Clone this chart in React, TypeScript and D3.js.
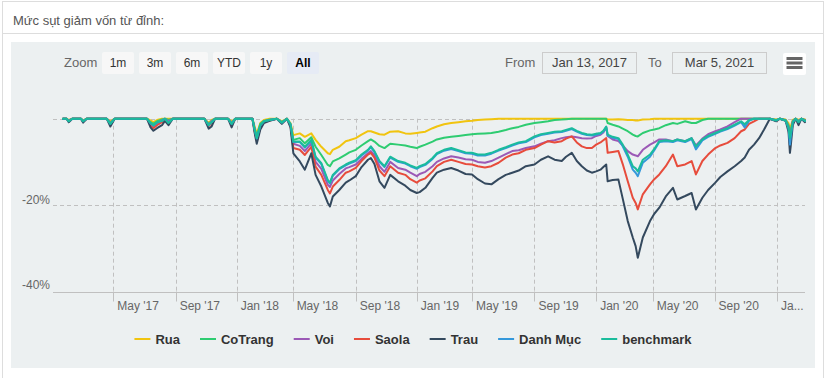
import React from "react";
import * as d3 from "d3";

// ---------- data ----------
const dates = [
  "2017-01-13","2017-01-20","2017-01-25","2017-02-08","2017-02-24","2017-03-01","2017-03-08","2017-04-18","2017-04-25","2017-05-05",
  "2017-07-07","2017-07-14","2017-07-20","2017-07-27","2017-08-07","2017-08-11","2017-08-18","2017-08-28","2017-10-30","2017-11-07",
  "2017-11-13","2017-11-20","2017-12-14","2017-12-21","2017-12-28","2018-02-01","2018-02-06","2018-02-09","2018-02-23","2018-03-02",
  "2018-03-14","2018-03-28","2018-04-06","2018-04-17","2018-04-24","2018-05-03","2018-05-16","2018-05-25","2018-06-07","2018-06-15",
  "2018-06-27","2018-07-10","2018-07-13","2018-07-19","2018-08-01","2018-08-14","2018-08-21","2018-09-04","2018-09-14","2018-09-27",
  "2018-10-03","2018-10-10","2018-10-19","2018-10-30","2018-11-09","2018-11-26","2018-12-10","2018-12-19","2019-01-02","2019-01-08",
  "2019-01-18","2019-02-01","2019-02-18","2019-03-04","2019-03-18","2019-04-01","2019-04-16","2019-05-02","2019-05-14","2019-05-28",
  "2019-06-10","2019-06-24","2019-07-08","2019-07-19","2019-08-01","2019-08-15","2019-09-03","2019-09-16","2019-09-30","2019-10-11",
  "2019-10-25","2019-11-04","2019-11-14","2019-11-25","2019-12-04","2019-12-13","2019-12-24","2020-01-02","2020-01-10","2020-01-16",
  "2020-01-22","2020-01-31","2020-02-11","2020-02-21","2020-03-02","2020-03-11","2020-03-20","2020-03-26","2020-03-31","2020-04-10",
  "2020-04-24","2020-05-06","2020-05-15","2020-05-28","2020-06-11","2020-06-19","2020-07-06","2020-07-17","2020-07-27","2020-08-07",
  "2020-08-19","2020-09-03","2020-09-14","2020-09-28","2020-10-12","2020-10-23","2020-10-30","2020-11-09","2020-11-18","2020-11-27",
  "2020-12-08","2020-12-18","2020-12-31","2021-01-08","2021-01-20","2021-01-26","2021-01-28","2021-01-29","2021-02-03","2021-02-09",
  "2021-02-22","2021-02-26","2021-03-05",
];

const rua = [
  0,0,-0.3,0,0,-0.4,0,0,-0.6,0,
  0,-0.4,-0.8,-0.3,0,0,0,0,0,-1.0,
  -0.3,0,0,-0.6,0,0,-1.8,-3.5,-1.0,-0.3,
  0,0,-0.6,0,-1.0,-3.8,-3.4,-4.2,-3.4,-4.9,
  -6.5,-8.0,-8.2,-7.2,-6.5,-5.2,-5.0,-4.5,-3.7,-2.9,
  -2.9,-3.2,-3.6,-3.7,-3.0,-2.9,-3.4,-3.5,-3.3,-3.2,
  -3.0,-2.2,-1.8,-1.3,-1.0,-0.8,-0.6,-0.5,-0.3,-0.2,
  -0.1,0,0,0,0,0,0,0,0,0,
  0,0,0,0,0,0,0,0,0,0,
  0,-0.2,-0.2,-0.1,-0.2,-0.3,-0.3,-0.4,-0.4,-0.2,
  -0.1,0,0,0,0,0,0,0,0,0,
  0,0,0,0,0,0,0,0,0,0,
  0,0,-0.2,0,-0.2,-1.0,-2.5,-1.8,-0.3,0,
  -0.3,0,-0.2,
];

const coTrang = [
  0,0,-0.4,0,0,-0.5,0,0,-0.9,0,
  0,-0.8,-1.2,-0.6,-0.2,0,-0.3,0,0,-1.2,
  -0.5,0,0,-0.9,0,0,-2.2,-4.0,-1.2,-0.5,
  -0.2,0,-0.8,0,-1.2,-4.9,-4.5,-5.7,-4.3,-6.5,
  -8.4,-10.7,-11.0,-9.9,-9.2,-8.3,-7.8,-7.2,-6.2,-5.2,
  -4.8,-5.3,-6.3,-6.8,-5.8,-6.0,-6.2,-6.5,-6.8,-6.5,
  -6.0,-5.3,-4.8,-4.4,-4.2,-4.0,-3.8,-3.6,-3.5,-3.4,
  -3.3,-3.0,-2.6,-2.2,-1.9,-1.4,-1.0,-0.8,-0.6,-0.3,
  -0.2,-0.1,0,0,0,0,0,0,0,0,
  0,-1.0,-1.4,-1.8,-2.3,-2.9,-3.7,-4.0,-4.1,-3.3,
  -2.7,-2.5,-2.2,-1.5,-1.0,-1.2,-0.6,-1.0,-1.0,-0.3,
  0,0,0,0,0,0,0,0,0,0,
  0,0,-0.3,0,-0.3,-1.5,-4.0,-2.8,-0.5,0,
  -0.5,0,-0.3,
];

const voi = [
  0,0,-0.5,0,0,-0.6,0,0,-1.1,0,
  0,-1.2,-1.8,-1.1,-0.4,0,-0.6,0,0,-1.4,
  -0.6,0,0,-1.1,0,0,-2.6,-4.8,-1.8,-0.7,
  -0.3,0,-0.9,0,-1.4,-5.8,-6.3,-7.5,-5.7,-10.0,
  -11.6,-15.3,-15.8,-14.3,-12.8,-11.5,-11.2,-10.6,-9.3,-8.0,
  -7.5,-8.4,-11.0,-12.3,-10.0,-11.4,-11.8,-12.5,-13.3,-12.8,
  -12.3,-11.0,-10.0,-9.2,-8.7,-9.0,-9.4,-9.5,-10.0,-10.2,
  -9.8,-9.0,-8.2,-7.5,-7.3,-6.8,-6.4,-5.8,-5.2,-5.0,
  -4.5,-4.3,-4.1,-4.3,-4.5,-4.6,-4.5,-4.0,-3.7,-3.2,
  -2.0,-4.0,-4.8,-5.2,-6.2,-7.5,-8.3,-8.5,-8.7,-7.2,
  -6.0,-5.5,-4.8,-4.8,-5.2,-4.8,-5.2,-4.5,-6.2,-4.6,
  -3.6,-2.9,-2.5,-1.8,-0.8,0,0,0,0,0,
  0,0,-0.4,0,-0.4,-1.8,-5.0,-3.5,-0.7,0,
  -0.6,0,-0.4,
];

const saola = [
  0,0,-0.6,0,0,-0.7,0,0,-1.4,0,
  0,-1.5,-2.2,-1.5,-0.8,-0.2,-0.9,0,0,-1.7,
  -1.0,0,0,-1.4,0,0,-2.8,-5.2,-2.0,-0.8,
  -0.4,0,-1.0,0,-1.6,-6.8,-7.2,-8.4,-6.5,-11.1,
  -13.0,-16.5,-17.3,-15.7,-14.2,-12.5,-12.2,-11.4,-9.8,-8.3,
  -7.9,-9.0,-12.0,-13.3,-11.0,-12.5,-13.0,-14.0,-14.8,-14.3,
  -13.8,-12.2,-11.0,-10.0,-9.5,-10.0,-10.5,-10.6,-11.0,-11.3,
  -11.0,-10.2,-9.0,-8.3,-8.0,-7.2,-6.8,-6.0,-5.2,-5.5,
  -5.2,-4.6,-4.1,-5.5,-6.4,-6.8,-6.8,-6.0,-5.5,-5.0,
  -4.5,-7.9,-7.7,-7.5,-10.5,-14.5,-18.3,-19.5,-21.0,-17.5,
  -15.2,-14.0,-12.9,-11.0,-8.3,-11.0,-10.6,-9.8,-12.9,-9.8,
  -8.3,-6.8,-6.2,-5.6,-4.5,-2.9,-2.5,-1.2,-0.6,0,
  0,0,-0.5,0,-0.4,-2.2,-6.0,-4.5,-0.8,0,
  -0.8,0,-0.5,
];

const trau = [
  0,0,-0.8,0,0,-0.9,0,0,-1.8,0,
  0,-2.0,-2.8,-2.2,-1.5,-0.5,-1.5,0,0,-2.3,
  -1.8,0,0,-2.0,0,0,-3.2,-5.8,-2.5,-1.0,
  -0.5,0,-1.2,0,-2.0,-8.0,-9.9,-11.8,-8.0,-13.0,
  -15.7,-19.5,-20.3,-18.0,-16.5,-14.8,-14.3,-13.3,-11.2,-9.5,
  -9.1,-10.5,-14.5,-16.0,-13.0,-14.5,-15.5,-16.5,-17.2,-17.0,
  -16.0,-13.7,-12.5,-11.8,-11.4,-12.0,-12.8,-12.9,-14.0,-15.0,
  -15.2,-14.0,-13.0,-12.5,-12.0,-11.0,-10.6,-9.5,-8.7,-9.5,
  -9.8,-8.8,-7.9,-9.8,-11.0,-12.0,-12.5,-12.2,-11.8,-11.2,
  -10.6,-14.5,-14.2,-14.1,-18.5,-23.7,-27.5,-29.5,-32.2,-27.5,
  -23.7,-22.0,-20.6,-18.0,-16.0,-18.7,-17.9,-17.2,-21.0,-18.3,
  -16.5,-14.8,-13.5,-12.2,-11.0,-9.8,-9.0,-7.2,-6.0,-4.5,
  -2.5,0,-0.6,0,-0.5,-3.0,-7.9,-6.5,-1.5,0,
  -1.5,0,-0.8,
];

const danhMuc = [
  0,0,-0.6,0,0,-0.6,0,0,-1.2,0,
  0,-1.1,-1.6,-0.9,-0.5,0,-0.9,0,0,-1.5,
  -0.8,0,0,-1.2,0,0,-2.5,-4.6,-1.6,-0.6,
  -0.3,0,-0.9,0,-1.3,-5.4,-5.4,-6.7,-5.1,-9.0,
  -10.5,-14.4,-15.0,-13.2,-11.7,-10.8,-10.4,-9.8,-8.5,-7.4,
  -6.6,-7.7,-10.0,-11.2,-9.0,-10.0,-10.4,-11.0,-11.6,-11.2,
  -10.7,-9.3,-8.2,-7.4,-7.0,-7.5,-8.0,-8.1,-8.5,-8.5,
  -8.1,-7.4,-6.8,-6.2,-5.7,-5.4,-4.3,-3.8,-3.5,-3.2,
  -3.1,-2.8,-2.4,-3.0,-3.5,-3.8,-3.9,-3.7,-3.5,-3.0,
  -2.0,-3.9,-4.4,-4.7,-6.4,-8.8,-11.8,-12.5,-13.3,-10.2,
  -8.8,-7.3,-5.4,-5.2,-5.4,-5.0,-5.4,-4.7,-7.1,-5.0,
  -4.2,-3.5,-3.0,-2.4,-1.6,-0.8,-2.0,-0.5,0,0,
  0,0,-0.4,0,-0.4,-2.2,-6.0,-4.5,-0.8,0,
  -0.8,0,-0.5,
];

const benchmark = [
  0,0,-0.6,0,0,-0.6,0,0,-1.2,0,
  0,-1.0,-1.5,-0.8,-0.5,0,-1.0,0,0,-1.5,
  -0.8,0,0,-1.2,0,0,-2.5,-4.5,-1.5,-0.6,
  -0.3,0,-0.9,0,-1.3,-5.3,-5.3,-6.5,-4.9,-8.8,
  -10.3,-14.2,-14.8,-13.0,-11.5,-10.6,-10.2,-9.6,-8.3,-7.2,
  -6.4,-7.5,-9.8,-11.0,-8.8,-9.8,-10.2,-10.8,-11.4,-11.0,
  -10.5,-9.1,-8.0,-7.2,-6.8,-7.3,-7.8,-7.9,-8.3,-8.3,
  -7.9,-7.2,-6.6,-6.0,-5.5,-5.2,-4.1,-3.6,-3.3,-3.0,
  -2.9,-2.6,-2.2,-2.8,-3.3,-3.6,-3.7,-3.5,-3.3,-2.8,
  -1.8,-3.7,-4.2,-4.5,-6.0,-8.3,-11.0,-11.5,-12.2,-9.5,
  -8.3,-7.0,-5.2,-5.0,-5.2,-4.8,-5.2,-4.5,-6.4,-4.8,
  -4.0,-3.3,-2.8,-2.2,-1.4,-0.6,-1.3,-0.3,0,0,
  0,0,-0.4,0,-0.4,-2.0,-4.5,-3.5,-0.8,0,
  -0.8,0,-0.5,
];

const seriesNames = ["Rua", "CoTrang", "Voi", "Saola", "Trau", "Danh Mục", "benchmark"];
const seriesValues = [rua, coTrang, voi, saola, trau, danhMuc, benchmark];
const seriesColors = ["#f1c40f", "#2ecc71", "#9b59b6", "#e74c3c", "#34495e", "#3498db", "#1abc9c"];

const yGridValues = [0, -20];
const yLabelValues = [-20, -40];
const yMin = -40;
const rangeButtons = ["1m", "3m", "6m", "YTD", "1y", "All"];
const selectedButton = "All";
const fromText = "Jan 13, 2017";
const toText = "Mar 5, 2021";
const title = "Mức sụt giảm vốn từ đỉnh:";

// exchange holidays (non-trading weekdays) -> ordinal x axis like Highstock
const holidays = [
  "2017-01-02","2017-01-26","2017-01-27","2017-01-30","2017-01-31","2017-02-01","2017-04-06","2017-05-01","2017-05-02","2017-09-04",
  "2018-01-01","2018-02-14","2018-02-15","2018-02-16","2018-02-19","2018-02-20","2018-04-25","2018-04-30","2018-05-01","2018-09-03",
  "2019-01-01","2019-02-04","2019-02-05","2019-02-06","2019-02-07","2019-02-08","2019-04-15","2019-04-29","2019-04-30","2019-05-01","2019-09-02",
  "2020-01-01","2020-01-23","2020-01-24","2020-01-27","2020-01-28","2020-01-29","2020-04-02","2020-04-30","2020-05-01","2020-09-02",
  "2021-01-01","2021-02-10","2021-02-11","2021-02-12","2021-02-15","2021-02-16",
];

const FONT = "'Liberation Sans', Arial, sans-serif";

let measureCtx: CanvasRenderingContext2D | null = null;
function textWidth(s: string, font: string) {
  if (!measureCtx) measureCtx = document.createElement("canvas").getContext("2d");
  if (!measureCtx) return s.length * 7;
  measureCtx.font = font;
  return measureCtx.measureText(s).width;
}

export default function App() {
  const W = 830, H = 378;
  const plotLeft = 53, plotRight = 805, dataLeft = 63;
  const plotTop = 118.7, plotBottom = 291.5;
  const bgX = 11, bgY = 42, bgR = 815, bgB = 368;

  const parse = d3.utcParse("%Y-%m-%d")!;
  const key = d3.utcFormat("%Y-%m-%d");
  const parsed = dates.map((d) => parse(d) as Date);
  const start = parsed[0];
  const end = parsed[parsed.length - 1];
  const hol = new Set(holidays);
  const days = d3.utcDay
    .range(start, d3.utcDay.offset(end, 1))
    .filter((d) => d.getUTCDay() % 6 !== 0 && !hol.has(key(d)));
  const dayMs = days.map((d) => +d);
  const idx = (d: Date) => Math.min(days.length - 1, d3.bisectLeft(dayMs, +d));

  const x = d3.scaleLinear().domain([0, days.length - 1]).range([dataLeft, plotRight]);
  const y = d3.scaleLinear().domain([yMin, 0]).range([plotBottom, plotTop]);

  const ticks = d3.utcMonth.every(4)!.range(start, end);
  const fmt = d3.utcFormat("%b '%y");
  const axisFontSize = 12;
  const axisFont = `${axisFontSize}px ${FONT}`;

  const line = d3
    .line<number>()
    .x((_, i) => x(idx(parsed[i])))
    .y((v) => y(v));

  // legend layout
  const legendFont = `bold 13px ${FONT}`;
  const symW = 16, symGap = 5, itemGap = 20;
  const widths = seriesNames.map((n) => symW + symGap + textWidth(n, legendFont));
  const total = d3.sum(widths) + itemGap * (seriesNames.length - 1);
  let lx = (bgX + bgR) / 2 - total / 2;
  const legendItems = seriesNames.map((n, i) => {
    const item = { name: n, color: seriesColors[i], x: lx };
    lx += widths[i] + itemGap;
    return item;
  });
  const legendY = 339;

  const truncate = (s: string, maxW: number) => {
    if (textWidth(s, axisFont) <= maxW) return s;
    let t = s;
    while (t.length > 1 && textWidth(t + "...", axisFont) > maxW) t = t.slice(0, -1);
    return t + "...";
  };

  const btnW = 32, btnH = 22, btnGap = 5, btnX0 = 102, btnY = 52;

  return (
    <svg
      width={W}
      height={H}
      style={{ position: "absolute", left: 0, top: 0, display: "block" }}
      fontFamily={FONT}
    >
      <rect x={0} y={0} width={W} height={H} fill="#ffffff" />
      <rect x={2.5} y={1.5} width={821} height={H} fill="#ffffff" stroke="#dddddd" />
      <text x={13} y={25} fontSize={13} fill="#555555">{title}</text>
      <line x1={3} x2={823} y1={33.5} y2={33.5} stroke="#dddddd" />

      <rect x={bgX} y={bgY} width={bgR - bgX} height={bgB - bgY} fill="#ecf0f1" />

      {/* range selector */}
      <text x={64} y={67} fontSize={13} fill="#666666">Zoom</text>
      {rangeButtons.map((b, i) => {
        const sel = b === selectedButton;
        const bx = btnX0 + i * (btnW + btnGap);
        return (
          <g key={b}>
            <rect x={bx} y={btnY} width={btnW} height={btnH} rx={2} fill={sel ? "#e6ebf5" : "#f7f7f7"} />
            <text
              x={bx + btnW / 2}
              y={btnY + 15}
              textAnchor="middle"
              fontSize={12}
              fontWeight={sel ? "bold" : "normal"}
              fill={sel ? "#000000" : "#333333"}
            >
              {b}
            </text>
          </g>
        );
      })}

      <text x={505} y={67} fontSize={13} fill="#666666">From</text>
      <rect x={542.5} y={52.5} width={94} height={21} fill="none" stroke="#cccccc" />
      <text x={589.5} y={67} fontSize={13} fill="#444444" textAnchor="middle">{fromText}</text>
      <text x={648} y={67} fontSize={13} fill="#666666">To</text>
      <rect x={672.5} y={52.5} width={94} height={21} fill="none" stroke="#cccccc" />
      <text x={719.5} y={67} fontSize={13} fill="#444444" textAnchor="middle">{toText}</text>

      <rect x={783} y={53} width={23} height={22} rx={2} fill="#ffffff" />
      {[58.5, 63, 67.5].map((ly) => (
        <line key={ly} x1={786.5} x2={802.5} y1={ly} y2={ly} stroke="#666666" strokeWidth={3} />
      ))}

      {/* grid */}
      {yGridValues.map((v) => (
        <line
          key={v}
          x1={plotLeft}
          x2={plotRight}
          y1={Math.round(y(v)) + 0.5}
          y2={Math.round(y(v)) + 0.5}
          stroke="#c0c0c0"
          strokeDasharray="4,3"
        />
      ))}
      {ticks.map((t) => {
        const tx = Math.round(x(idx(t))) + 0.5;
        return (
          <g key={+t}>
            <line x1={tx} x2={tx} y1={plotTop} y2={plotBottom} stroke="#c0c0c0" strokeDasharray="4,3" />
            <line x1={tx} x2={tx} y1={plotBottom} y2={plotBottom + 10} stroke="#c0c0c0" />
          </g>
        );
      })}
      <line x1={plotLeft} x2={plotRight} y1={Math.round(plotBottom) + 0.5} y2={Math.round(plotBottom) + 0.5} stroke="#c0c0c0" />

      {/* axis labels */}
      {yLabelValues.map((v) => (
        <text key={v} x={50} y={y(v) - (v === yMin ? 2.5 : 1)} fontSize={axisFontSize} fill="#666666" textAnchor="end">
          {`${v}%`}
        </text>
      ))}
      {ticks.map((t) => {
        const tx = x(idx(t)) + 4;
        return (
          <text key={+t} x={tx} y={310} fontSize={axisFontSize} fill="#666666">
            {truncate(fmt(t), plotRight - tx)}
          </text>
        );
      })}

      {/* series */}
      {seriesValues.map((vals, i) => (
        <path
          key={seriesNames[i]}
          d={line(vals) || ""}
          fill="none"
          stroke={seriesColors[i]}
          strokeWidth={2}
          strokeLinejoin="round"
          strokeLinecap="round"
        />
      ))}

      {/* legend */}
      {legendItems.map((it) => (
        <g key={it.name}>
          <line x1={it.x} x2={it.x + symW} y1={legendY} y2={legendY} stroke={it.color} strokeWidth={2} />
          <text x={it.x + symW + symGap} y={legendY + 4.5} fontSize={13} fontWeight="bold" fill="#333333">
            {it.name}
          </text>
        </g>
      ))}
    </svg>
  );
}
